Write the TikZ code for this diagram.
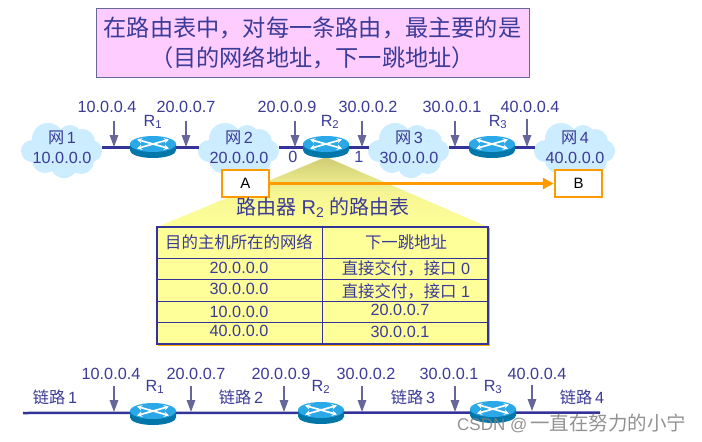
\documentclass[tikz,border=0pt]{standalone}
\usepackage{fontspec}
\setmainfont{Liberation Sans}
\newfontfamily\cjk{Noto Sans CJK SC}
\usetikzlibrary{arrows.meta}
\definecolor{ink}{HTML}{3B3B98}
\definecolor{netline}{HTML}{333399}
\definecolor{arrowc}{HTML}{666699}
\definecolor{cloudc}{HTML}{CCECFF}
\definecolor{orangec}{HTML}{FF9900}
\definecolor{yellowc}{HTML}{FFFF99}
\definecolor{titlefill}{HTML}{FFCCFF}
\definecolor{routerbody}{HTML}{0077A8}
\definecolor{routertop}{HTML}{2BA8E8}
\definecolor{apexc}{HTML}{CFCC75}
\newcommand{\cloudblob}[2]{%
  \begin{scope}[shift={(#1,#2)}]
    \fill[cloudc] (-14,-11) circle (16) (8,-13) circle (12) (20,-8) circle (13)
      (29,1) circle (11) (19,11) circle (13) (2,14) circle (14) (-17,10) circle (13)
      (-30,1) circle (11) (0,0) ellipse (30 and 18);
  \end{scope}}
\newcommand{\routerpic}[2]{%
  \begin{scope}[shift={(#1,#2)}]
    \fill[routerbody] (-23,-3) -- (-23,3.5) arc[start angle=180,end angle=360,x radius=23,y radius=-7.5] -- (23,-3) -- cycle;
    \fill[routertop] (0,-3) ellipse (23 and 8);
    \draw[white,line width=1.7,-{Stealth[length=5,width=5.5]}] (0,-3) -- (-16,-7.5);
    \draw[white,line width=1.7,-{Stealth[length=5,width=5.5]}] (0,-3) -- (16,-7.5);
    \draw[white,line width=1.7,-{Stealth[length=5,width=5.5]}] (0,-3) -- (-16,1.5);
    \draw[white,line width=1.7,-{Stealth[length=5,width=5.5]}] (0,-3) -- (16,1.5);
  \end{scope}}
\newcommand{\ipdown}[4]{%
  \coordinate (#1s) at (#2,#3);
  \coordinate (#1e) at (#2,#4);
  \draw[iparrow] (#1s) -- (#1e);}
\tikzset{
  txt/.style={text=ink,inner sep=0,font=\fontsize{16.2}{18}\selectfont},
  cloudnode/.style={txt,minimum width=80,minimum height=40,align=center},
  routernode/.style={inner sep=0,minimum width=46,minimum height=22},
  netlink/.style={netline,line width=3},
  buslink/.style={netline,line width=2.5},
  iparrow/.style={arrowc,line width=1.6,-{Triangle[length=12,width=8.5]}},
  hostbox/.style={draw=orangec,line width=2.5,fill=white,minimum width=47,minimum height=27,inner sep=0,font=\fontsize{15}{17}\selectfont},
  cell/.style={txt},
}
\begin{document}
\begin{tikzpicture}[x=1pt,y=-1pt]
\useasboundingbox (0,0) rectangle (702,442);
\fill[white] (0,0) rectangle (702,442);

% title
\node[draw=arrowc,line width=1,fill=titlefill,minimum width=433,minimum height=69,inner sep=0,text=ink,align=center,
  font=\cjk\fontsize{23.2}{30}\selectfont] (title) at (312.5,42.5)
  {在路由表中，对每一条路由，最主要的是\\（目的网络地址，下一跳地址）};

% funnel
\shade[top color=apexc,bottom color=yellowc,middle color=yellowc!96!black] (326,157) -- (488,227) -- (157,227) -- cycle;

% clouds
\cloudblob{62}{150}\cloudblob{239}{150}\cloudblob{409}{150}\cloudblob{575}{150}
\node[cloudnode] (net1) at (62,147) {{\cjk 网}\,1\\[2pt]10.0.0.0};
\node[cloudnode] (net2) at (239,147) {{\cjk 网}\,2\\[2pt]20.0.0.0};
\node[cloudnode] (net3) at (409,147) {{\cjk 网}\,3\\[2pt]30.0.0.0};
\node[cloudnode] (net4) at (575,147) {{\cjk 网}\,4\\[2pt]40.0.0.0};

% routers (top)
\node[routernode] (r1) at (153,147) {};
\node[routernode] (r2) at (326,147) {};
\node[routernode] (r3) at (492,147) {};
\draw[netlink] (net1.east) -- (r1.west);
\draw[netlink] (r1.east) -- (net2.west);
\draw[netlink] (net2.east) -- (r2.west);
\draw[netlink] (r2.east) -- (net3.west);
\draw[netlink] (net3.east) -- (r3.west);
\draw[netlink] (r3.east) -- (net4.west);
\routerpic{153}{147}\routerpic{326}{147}\routerpic{492}{147}
\node[txt] (lr1) at (153,122) {R\textsubscript{1}};
\node[txt] (lr2) at (330,122) {R\textsubscript{2}};
\node[txt] (lr3) at (498,122) {R\textsubscript{3}};

% top arrows and addresses
\ipdown{ta}{114}{121}{147}\ipdown{tb}{186}{121}{147}\ipdown{tc}{295}{121}{147}
\ipdown{td}{362}{121}{147}\ipdown{te}{455}{121}{147}\ipdown{tf}{527}{119}{147}
\node[txt] (ipa) at (107,107) {10.0.0.4};
\node[txt] (ipb) at (186,107) {20.0.0.7};
\node[txt] (ipc) at (287,107) {20.0.0.9};
\node[txt] (ipd) at (368,107) {30.0.0.2};
\node[txt] (ipe) at (452,107) {30.0.0.1};
\node[txt] (ipf) at (530,107) {40.0.0.4};
\node[txt] (if0) at (293,157) {0};
\node[txt] (if1) at (359,157) {1};

% hosts
\node[hostbox] (A) at (245.5,183.5) {A};
\node[hostbox] (B) at (578.5,183.5) {B};
\draw[orangec,line width=3.5,-{Triangle[length=11,width=11]}] (A.east) -- (B.west);

% table
\node[txt,font=\fontsize{20}{22}\selectfont] (ttitle) at (323,208) {{\cjk 路由器} R\textsubscript{2} {\cjk 的路由表}};
\fill[orangec!80!yellow] (158,228) rectangle (489.5,345.5);
\fill[yellowc] (157,227) rectangle (488,344);
\draw[netline,line width=1] (157,258) -- (488,258) (157,279) -- (488,279) (157,301) -- (488,301) (157,322) -- (488,322) (322,227) -- (322,344);
\draw[netline,line width=2] (157,227) rectangle (488,344);
\node[cell,font=\cjk\fontsize{16.4}{18}\selectfont] (h1) at (239,242) {目的主机所在的网络};
\node[cell,font=\cjk\fontsize{16.4}{18}\selectfont] (h2) at (406,242) {下一跳地址};
\node[cell] (c11) at (239,268) {20.0.0.0};
\node[cell] (c21) at (239,289) {30.0.0.0};
\node[cell] (c31) at (239,312) {10.0.0.0};
\node[cell] (c41) at (239,331) {40.0.0.0};
\node[cell] (c12) at (406,268) {{\cjk\fontsize{16.4}{18}\selectfont 直接交付，接口} 0};
\node[cell] (c22) at (406,291) {{\cjk\fontsize{16.4}{18}\selectfont 直接交付，接口} 1};
\node[cell] (c32) at (400,310) {20.0.0.7};
\node[cell] (c42) at (400,332) {30.0.0.1};

% bottom bus
\coordinate (busL) at (23,413);
\coordinate (busR) at (600,412.5);
\draw[buslink] (busL) -- (busR);
\routerpic{153}{414}\routerpic{321}{413}\routerpic{493}{412}
\node[txt] (br1) at (155,387) {R\textsubscript{1}};
\node[txt] (br2) at (321,387) {R\textsubscript{2}};
\node[txt] (br3) at (493,387) {R\textsubscript{3}};
\ipdown{ba}{114}{386}{412}\ipdown{bb}{191}{386}{412}\ipdown{bc}{284}{386}{412}
\ipdown{bd}{362}{386}{412}\ipdown{be}{455}{386}{412}\ipdown{bf}{532}{385}{411}
\node[txt] (bipa) at (111,374) {10.0.0.4};
\node[txt] (bipb) at (196,374) {20.0.0.7};
\node[txt] (bipc) at (281,374) {20.0.0.9};
\node[txt] (bipd) at (366,374) {30.0.0.2};
\node[txt] (bipe) at (449,374) {30.0.0.1};
\node[txt] (bipf) at (537,374) {40.0.0.4};
\node[txt] (l1) at (55,397) {{\cjk 链路}\,1};
\node[txt] (l2) at (241,397) {{\cjk 链路}\,2};
\node[txt] (l3) at (413,397) {{\cjk 链路}\,3};
\node[txt] (l4) at (582,397) {{\cjk 链路}\,4};

% watermark
\node[inner sep=0,anchor=west,text=black!50,opacity=.85] (mark) at (457,423)
  {\fontsize{17}{20}\selectfont CSDN @\,{\cjk\fontsize{19.5}{20}\selectfont 一直在努力的小宁}};
\end{tikzpicture}
\end{document}
